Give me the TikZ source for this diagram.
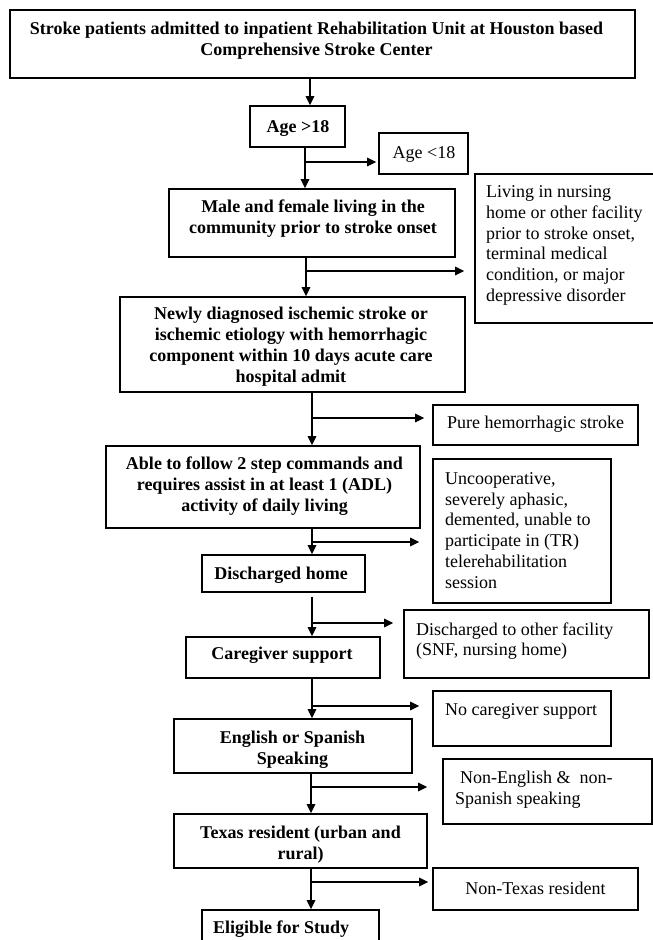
\documentclass[tikz,border=0pt]{standalone}
\usepackage{fontspec}
\setmainfont{Liberation Serif}
\usetikzlibrary{arrows.meta}

% box given by left, right, top, bottom edges (y grows downwards)
\newcommand\boxat[5]{%
  \node[flowbox, minimum width={(#3)-(#2)}, minimum height={(#5)-(#4)}]
    (#1) at ({((#2)+(#3))/2},{((#4)+(#5))/2}) {};}

\begin{document}
\begin{tikzpicture}[x=1pt, y=-1pt,
  flowbox/.style={draw, rectangle, line width=1.7pt, inner sep=0pt},
  boldtext/.style={align=center, inner sep=0pt, yshift=-2pt,
    font={\fontsize{18}{21}\selectfont\bfseries}},
  plaintext/.style={align=left, inner sep=0pt, yshift=-2pt,
    font={\fontsize{18}{20.8}\selectfont}},
  plaincenter/.style={align=center, inner sep=0pt, yshift=-2pt,
    font={\fontsize{18}{20.8}\selectfont}},
  arr/.style={line width=1.4pt, -{Triangle[length=9pt,width=8.5pt]}}]

\useasboundingbox (0,0) rectangle (653,940);

% ---- boxes of the main flow
\boxat{top}{10}{635}{10}{78}
\boxat{age}{250}{345}{106}{147}
\boxat{male}{169}{455}{189}{257}
\boxat{newly}{120}{465}{297}{392}
\boxat{able}{106}{420}{446}{528}
\boxat{dhome}{202}{365}{555}{592}
\boxat{care}{186}{380}{637}{678}
\boxat{english}{174}{412}{719}{773}
\boxat{texas}{174}{427}{814}{868}
\boxat{eligible}{202}{379}{910}{962}

% ---- exclusion boxes
\boxat{ageless}{379}{468}{133}{174}
\boxat{living}{475}{656}{174}{323}
\boxat{pure}{433}{638}{405}{445}
\boxat{uncoop}{433}{611}{459}{603}
\boxat{dother}{404}{649}{610}{678}
\boxat{nocare}{433}{611}{691}{746}
\boxat{nonenglish}{443}{652}{759}{824}
\boxat{nontexas}{433}{638}{868}{910}

% ---- texts of the main flow
\node[boldtext] (top-t) at (316.5,38.5)
  {Stroke patients admitted to inpatient Rehabilitation Unit at Houston based\\
   Comprehensive Stroke Center};
\node[boldtext] (age-t) at (298,126) {Age >18};
\node[boldtext] (male-t) at (313,216.5)
  {Male and female living in the\\community prior to stroke onset};
\node[boldtext] (newly-t) at (291,345)
  {Newly diagnosed ischemic stroke or\\ischemic etiology with hemorrhagic\\
   component within 10 days acute care\\hospital admit};
\node[boldtext] (able-t) at (264.5,484.5)
  {Able to follow 2 step commands and\\requires assist in at least 1 (ADL)\\
   activity of daily living};
\node[boldtext] (dhome-t) at (281,573) {Discharged home};
\node[boldtext] (care-t) at (282,653) {Caregiver support};
\node[boldtext] (english-t) at (292.5,747.5) {English or Spanish\\Speaking};
\node[boldtext] (texas-t) at (300.5,842.5) {Texas resident (urban and\\rural)};
\node[boldtext, anchor=west] (eligible-t) at (213,927) {Eligible for Study};

% ---- texts of the exclusion boxes
\node[plaincenter] (ageless-t) at (424,152) {Age <18};
\node[plaintext, anchor=west] (living-t) at (486,243.5)
  {Living in nursing\\home or other facility\\prior to stroke onset,\\
   terminal medical\\condition, or major\\depressive disorder};
\node[plaincenter] (pure-t) at (535.5,422) {Pure hemorrhagic stroke};
\node[plaintext, anchor=west] (uncoop-t) at (445,528.5)
  {Uncooperative,\\severely aphasic,\\demented, unable to\\
   participate in (TR)\\telerehabilitation\\session};
\node[plaintext, anchor=west] (dother-t) at (416,639)
  {Discharged to other facility\\(SNF, nursing home)};
\node[plaintext, anchor=west] (nocare-t) at (445,709) {No caregiver support};
\node[plaintext, anchor=west] (nonenglish-t) at (455,787.5)
  {\hspace*{5pt}Non-English \&\ \ non-\\Spanish speaking};
\node[plaincenter] (nontexas-t) at (535.5,886) {Non-Texas resident};

% ---- junctions on the trunk
\coordinate (j0) at (310,92);
\coordinate (j1) at (305,162);
\coordinate (j2) at (306,271);
\coordinate (j3) at (312,418);
\coordinate (j4) at (312,542);
\coordinate (j5) at (312,623);
\coordinate (j6) at (312,706);
\coordinate (j7) at (311,787);
\coordinate (j8) at (311,882);

% ---- trunk arrows
\draw[arr] (top.south -| j0) -- (age.north -| j0);
\draw[arr] (age.south -| j1) -- (male.north -| j1);
\draw[arr] (male.south -| j2) -- (newly.north -| j2);
\draw[arr] (newly.south -| j3) -- (able.north -| j3);
\draw[arr] (able.south -| j4) -- (dhome.north -| j4);
\draw[arr, shorten <=4pt] (dhome.south -| j5) -- (care.north -| j5);
\draw[arr] (care.south -| j6) -- (english.north -| j6);
\draw[arr] (english.south -| j7) -- (texas.north -| j7);
\draw[arr] (texas.south -| j8) -- (eligible.north -| j8);

% ---- exclusion branches
\draw[arr, shorten >=2pt]  (j1) -- (ageless.west |- j1);
\draw[arr, shorten >=10pt] (j2) -- (living.west |- j2);
\draw[arr, shorten >=8pt]  (j3) -- (pure.west |- j3);
\draw[arr, shorten >=13pt] (j4) -- (uncoop.west |- j4);
\draw[arr, shorten >=10pt] (j5) -- (dother.west |- j5);
\draw[arr, shorten >=13pt] (j6) -- (nocare.west |- j6);
\draw[arr, shorten >=15pt] (j7) -- (nonenglish.west |- j7);
\draw[arr, shorten >=4pt]  (j8) -- (nontexas.west |- j8);
\end{tikzpicture}
\end{document}
